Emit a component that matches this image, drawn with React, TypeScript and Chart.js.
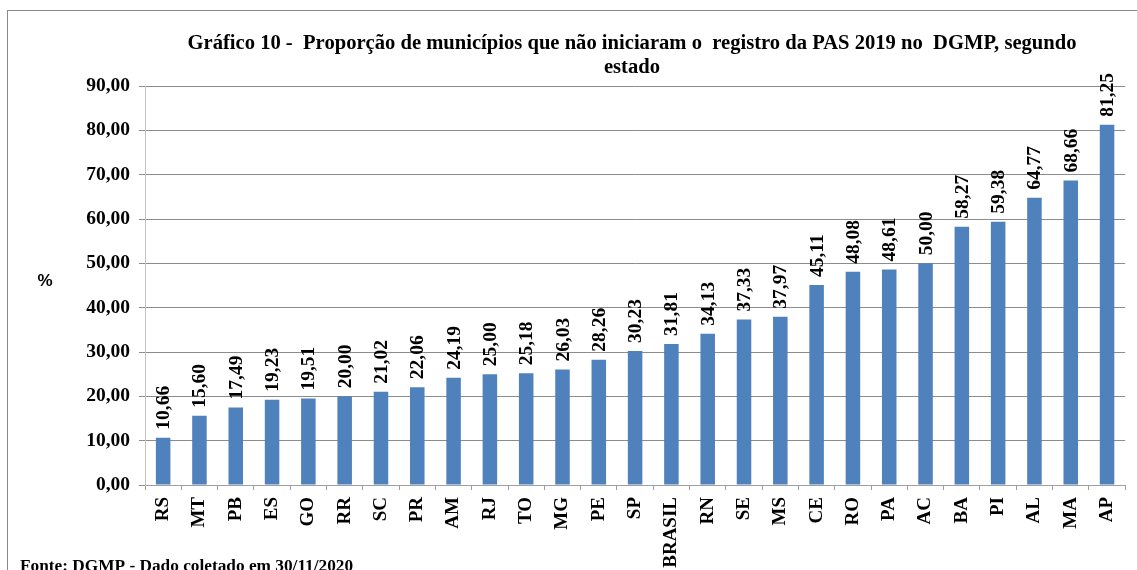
import React, { useEffect, useRef } from "react";
import { Chart, registerables } from "chart.js";

Chart.register(...registerables);

const categories = ["RS","MT","PB","ES","GO","RR","SC","PR","AM","RJ","TO","MG","PE","SP","BRASIL","RN","SE","MS","CE","RO","PA","AC","BA","PI","AL","MA","AP"];
const values = [10.66,15.60,17.49,19.23,19.51,20.00,21.02,22.06,24.19,25.00,25.18,26.03,28.26,30.23,31.81,34.13,37.33,37.97,45.11,48.08,48.61,50.00,58.27,59.38,64.77,68.66,81.25];
const titleLines = ["Gráfico 10 -  Proporção de municípios que não iniciaram o  registro da PAS 2019 no  DGMP, segundo", "estado"];
const yAxisLabel = "%";
const footer = "Fonte: DGMP - Dado coletado em 30/11/2020";

const SERIF = "'Liberation Serif', 'Times New Roman', serif";
const SANS = "'Liberation Sans', Arial, sans-serif";
const fmt = (v: number) => v.toFixed(2).replace(".", ",");

export default function App() {
  const ref = useRef<HTMLCanvasElement>(null);
  useEffect(() => {
    const canvas = ref.current!;
    const decor = {
      id: "decor",
      beforeDraw(chart: any) {
        const ctx = chart.ctx;
        ctx.save();
        ctx.fillStyle = "#fff";
        ctx.fillRect(0, 0, chart.width, chart.height);
        ctx.strokeStyle = "#8a8a8a";
        ctx.lineWidth = 1;
        ctx.strokeRect(7.5, 10.5, 1300, 800);
        ctx.restore();
      },
      afterDraw(chart: any) {
        const ctx = chart.ctx;
        ctx.save();
        ctx.fillStyle = "#000";
        ctx.textAlign = "center";
        ctx.textBaseline = "alphabetic";
        ctx.font = `bold 20.6px ${SERIF}`;
        ctx.fillText(titleLines[0], 632, 49);
        ctx.fillText(titleLines[1], 632, 73);
        ctx.font = `bold 17px ${SANS}`;
        ctx.textBaseline = "middle";
        ctx.fillText(yAxisLabel, 45, 281);
        ctx.textAlign = "left";
        ctx.textBaseline = "alphabetic";
        ctx.font = `bold 17.3px ${SERIF}`;
        ctx.fillText(footer, 20, 571);
        ctx.restore();
      },
      afterDatasetsDraw(chart: any) {
        const ctx = chart.ctx;
        const meta = chart.getDatasetMeta(0);
        ctx.save();
        ctx.fillStyle = "#000";
        ctx.font = `bold 19.5px ${SERIF}`;
        ctx.textAlign = "left";
        ctx.textBaseline = "middle";
        meta.data.forEach((bar: any, i: number) => {
          ctx.save();
          ctx.translate(bar.x, bar.y - 8);
          ctx.rotate(-Math.PI / 2);
          ctx.fillText(fmt(values[i]), 0, 1);
          ctx.restore();
        });
        ctx.restore();
      },
    };
    const chart = new Chart(canvas, {
      type: "bar",
      data: {
        labels: categories,
        datasets: [
          {
            data: values,
            backgroundColor: "#4F81BD",
            barPercentage: 0.4,
            categoryPercentage: 1,
          },
        ],
      },
      options: {
        animation: false,
        responsive: false,
        layout: { padding: { left: 0, top: 86, right: 8, bottom: 0 } },
        plugins: { legend: { display: false }, tooltip: { enabled: false }, title: { display: false } },
        scales: {
          x: {
            grid: { drawOnChartArea: false, drawTicks: true, tickLength: 5, color: "#a0a0a0" },
            border: { color: "#a0a0a0" },
            ticks: {
              color: "#000",
              font: { family: SERIF, size: 19, weight: "bold" },
              minRotation: 90,
              maxRotation: 90,
              padding: 7,
              autoSkip: false,
            },
            afterFit(scale: any) { scale.height = 85; },
          },
          y: {
            min: 0,
            max: 90,
            grid: { color: "#8c8c8c", tickLength: 6 },
            border: { color: "#c4c4c4" },
            ticks: {
              stepSize: 10,
              color: "#000",
              padding: 9,
              font: { family: SERIF, size: 19.5, weight: "bold" },
              callback: (v: any) => fmt(Number(v)),
            },
            afterFit(scale: any) { scale.width = 145; },
          },
        },
      },
      plugins: [decor],
    } as any);
    return () => chart.destroy();
  }, []);
  return (
    <div style={{ position: "absolute", left: 0, top: 0, width: 1137, height: 570, overflow: "hidden" }}>
      <canvas ref={ref} width={1137} height={570} style={{ display: "block" }} />
    </div>
  );
}
